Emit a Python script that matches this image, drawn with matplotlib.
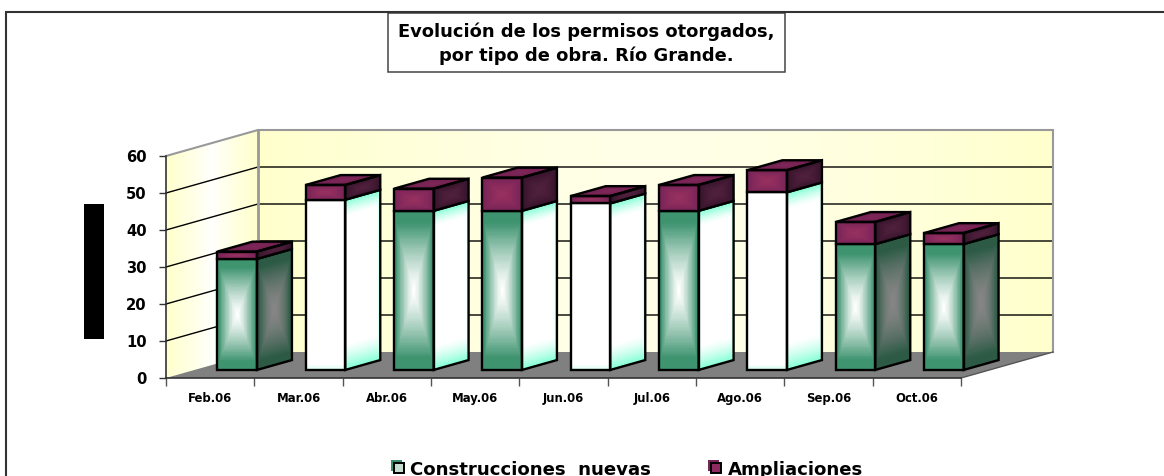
import numpy as np
import matplotlib
matplotlib.use("Agg")
import matplotlib.pyplot as plt
from matplotlib.patches import Polygon, Rectangle

months = ["Feb.06", "Mar.06", "Abr.06", "May.06", "Jun.06", "Jul.06", "Ago.06", "Sep.06", "Oct.06"]
construcciones = [30, 46, 43, 43, 45, 43, 48, 34, 34]
ampliaciones = [2, 4, 6, 9, 2, 7, 6, 6, 3]
front_style = ["green", "white", "green", "green", "white", "green", "white", "green", "green"]
side_style = ["dark", "cyan", "cyan", "cyan", "cyan", "cyan", "cyan", "dark", "dark"]
yticks = [0, 10, 20, 30, 40, 50, 60]

FONT = "DejaVu Sans"
W, H = 1164, 476
fig = plt.figure(figsize=(W / 100, H / 100), dpi=100, facecolor="white")
ax = fig.add_axes([166 / W, (H - 378) / H, 795 / W, 222 / H])
ax.set_xlim(0, 9)
ax.set_ylim(0, 60)
ax.patch.set_visible(False)

DX = 92 / (795 / 9)   # depth shift in category units
DY = 26 / (222 / 60)  # depth shift in value units


def proj(x, v, d):
    return x + d * DX, v + d * DY


def mix(a, b, t):
    a = np.array(matplotlib.colors.to_rgb(a))
    b = np.array(matplotlib.colors.to_rgb(b))
    return a + (b - a) * t[..., None]


def mesh(c00, c10, c01, c11, colors, z):
    n, m = colors.shape[:2]
    u = np.linspace(0, 1, m + 1)[None, :]
    v = np.linspace(0, 1, n + 1)[:, None]
    X = (1 - u) * (1 - v) * c00[0] + u * (1 - v) * c10[0] + (1 - u) * v * c01[0] + u * v * c11[0]
    Y = (1 - u) * (1 - v) * c00[1] + u * (1 - v) * c10[1] + (1 - u) * v * c01[1] + u * v * c11[1]
    ax.pcolormesh(X, Y, np.clip(colors, 0, 1), shading="flat", zorder=z, clip_on=False, rasterized=True)


def grid_uv(n=140, m=50):
    u = (np.arange(m) + .5) / m * 2 - 1
    v = (np.arange(n) + .5) / n * 2 - 1
    return np.meshgrid(u, v)


def box_t():
    u, v = grid_uv()
    return np.clip(np.maximum(np.abs(u) ** 1.3 * 1.12, np.abs(v) ** 1.3 * 1.25), 0, 1)


def tex_green():
    return mix("#FFFFFF", "#3F9470", box_t())


def tex_dark():
    return mix("#858585", "#2C5A45", box_t() ** 1.3)


def tex_white():
    u, v = grid_uv()
    t = np.maximum(np.clip((np.abs(u) - .93) / .07, 0, 1) * .3, np.clip((-v - .94) / .06, 0, 1) * .4)
    return mix("#FFFFFF", "#7FFFD4", t)


def tex_cyan():
    u, v = grid_uv()
    edge = np.clip((u - .82) / .18, 0, 1) ** 1.5
    vert = np.maximum(np.clip((-v - .68) / .32, 0, 1) ** 1.4, np.clip((v - .8) / .2, 0, 1) ** 1.4)
    return mix("#FFFFFF", "#7FFFD4", np.maximum(edge, vert))


def tex_plum(center, edge):
    u, v = grid_uv()
    t = np.maximum(np.abs(u), np.abs(v))
    return mix(center, edge, t ** 1.5)


# ---- walls and floor ----
side_t = np.abs(np.linspace(-1, 1, 200))[None, :]
mesh(proj(0, 0, 0), proj(0, 0, 1), proj(0, 60, 0), proj(0, 60, 1),
     mix("#FFFFFF", "#FFFFCC", side_t ** 0.8).repeat(2, axis=0), 1)
back_t = np.abs(np.linspace(-1, 1, 400))[None, :]
mesh(proj(0, 0, 1), proj(9, 0, 1), proj(0, 60, 1), proj(9, 60, 1),
     mix("#FFFFE8", "#FFFFCC", back_t ** 1.5).repeat(2, axis=0), 1)
ax.add_patch(Polygon([proj(0, 0, 0), proj(9, 0, 0), proj(9, 0, 1), proj(0, 0, 1)],
                     closed=True, fc="#808080", ec="none", zorder=1.5, clip_on=False))

for val in yticks[1:-1]:
    ax.plot(*zip(proj(0, val, 0), proj(0, val, 1), proj(9, val, 1)),
            color="black", lw=1.0, zorder=2, clip_on=False, solid_joinstyle="miter")
ax.plot(*zip(proj(0, 60, 0), proj(0, 60, 1), proj(9, 60, 1), proj(9, 0, 1)),
        color="#999999", lw=1.5, zorder=2, clip_on=False, solid_joinstyle="miter")
ax.plot(*zip(proj(0, 0, 1), proj(0, 60, 1)), color="#999999", lw=2, zorder=2, clip_on=False)
ax.plot(*zip(proj(9, 0, 0), proj(9, 0, 1)), color="#555555", lw=1, zorder=2, clip_on=False)

# ---- bars ----
OFF, BW, D0, D1 = 0.26, 0.447, 0.31, 0.69
front_tex = {"green": tex_green, "white": tex_white}
side_tex = {"dark": tex_dark, "cyan": tex_cyan}


def segment(i, lo, hi, ftex, stex, z, top=False):
    x0, x1 = i + OFF, i + OFF + BW
    a, b = proj(x0, lo, D0), proj(x1, lo, D0)
    c, d = proj(x0, hi, D0), proj(x1, hi, D0)
    e, f = proj(x1, lo, D1), proj(x1, hi, D1)
    g = proj(x0, hi, D1)
    mesh(a, b, c, d, ftex, z)
    mesh(b, e, d, f, stex, z)
    edge = dict(fill=False, ec="black", lw=1.7, zorder=z + .1, clip_on=False, joinstyle="miter")
    if top:
        mesh(c, d, g, f, tex_plum("#7E2658", "#6A1E4C"), z)
        ax.add_patch(Polygon([c, d, f, g], closed=True, **edge))
    ax.add_patch(Polygon([a, b, d, c], closed=True, **edge))
    ax.add_patch(Polygon([b, e, f, d], closed=True, **edge))


for i, (lo, am) in enumerate(zip(construcciones, ampliaciones)):
    z = 3 + i
    segment(i, 0, lo, front_tex[front_style[i]](), side_tex[side_style[i]](), z)
    segment(i, lo, lo + am, tex_plum("#96305F", "#752257"), tex_plum("#50203C", "#35122A"), z + .3, top=True)

# ---- axes ----
for s in ("top", "right"):
    ax.spines[s].set_visible(False)
for s in ("left", "bottom"):
    ax.spines[s].set_color("#333333")
    ax.spines[s].set_linewidth(1.2)
    ax.spines[s].set_zorder(20)
ax.set_yticks(yticks)
ax.set_yticklabels([str(t) for t in yticks], fontfamily=FONT, fontweight="bold", fontsize=10.6)
ax.set_xticks(range(10))
ax.set_xticklabels([])
ax.set_xticks(np.arange(9) + .5, months, minor=True, fontfamily=FONT, fontweight="bold", fontsize=8.4)
ax.tick_params(axis="y", length=5, width=1, color="#333333", pad=9)
ax.tick_params(axis="x", which="major", length=6, width=1, color="#555555")
ax.tick_params(axis="x", which="minor", length=0, pad=17)
for lab in ax.get_xticklabels(minor=True):
    lab.set_verticalalignment("baseline")

# ---- overlay in pixel coordinates ----
ov = fig.add_axes([0, 0, 1, 1], zorder=30)
ov.set_xlim(0, W)
ov.set_ylim(H, 0)
ov.axis("off")
ov.plot([5.5, 5.5, W], [H, 12, 12], color="#333333", lw=1.5, solid_joinstyle="miter")
ov.add_patch(Rectangle((387.5, 12.5), 397.5, 59.5, fc="white", ec="#444444", lw=1.1))
ov.add_patch(Rectangle((84, 204), 20, 135, fc="black", ec="none"))
ov.text(586, 37, "Evolución de los permisos otorgados,", ha="center", va="baseline",
        fontfamily=FONT, fontweight="bold", fontsize=12.9)
ov.text(586, 61, "por tipo de obra. Río Grande.", ha="center", va="baseline",
        fontfamily=FONT, fontweight="bold", fontsize=12.9)
for x, col, label, tx in [(391, "#3C8F6C", "Construcciones  nuevas", 410), (708, "#7A2558", "Ampliaciones", 728)]:
    ov.add_patch(Rectangle((x, 460), 11, 11, fc=col, ec="none"))
    inner = "#C8DDD2" if col == "#3C8F6C" else "#8E2C62"
    ov.add_patch(Rectangle((x + 3, 463), 10, 10, fc=inner, ec="black", lw=1.4))
    ov.text(tx, 475, label, ha="left", va="baseline", fontfamily=FONT, fontweight="bold", fontsize=13.1)

fig.savefig("out.png", dpi=100)
